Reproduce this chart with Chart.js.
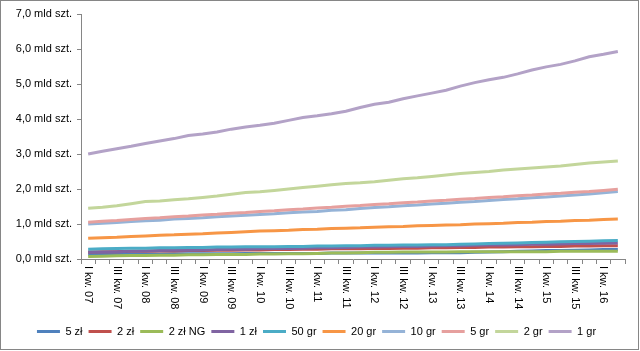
<!DOCTYPE html>
<html>
<head>
<meta charset="utf-8">
<script src="https://cdn.jsdelivr.net/npm/chart.js@4/dist/chart.umd.min.js"></script>
<style>
  html, body { margin: 0; padding: 0; background: #fff; }
  #wrap { width: 640px; height: 351px; position: relative; }
</style>
</head>
<body>
<div id="wrap"><canvas id="c" width="640" height="351"></canvas></div>
<script>
const categories = [
  "I kw. 07","II kw. 07","III kw. 07","IV kw. 07",
  "I kw. 08","II kw. 08","III kw. 08","IV kw. 08",
  "I kw. 09","II kw. 09","III kw. 09","IV kw. 09",
  "I kw. 10","II kw. 10","III kw. 10","IV kw. 10",
  "I kw. 11","II kw. 11","III kw. 11","IV kw. 11",
  "I kw. 12","II kw. 12","III kw. 12","IV kw. 12",
  "I kw. 13","II kw. 13","III kw. 13","IV kw. 13",
  "I kw. 14","II kw. 14","III kw. 14","IV kw. 14",
  "I kw. 15","II kw. 15","III kw. 15","IV kw. 15",
  "I kw. 16","II kw. 16"
];

const seriesNames = ["5 zł","2 zł","2 zł NG","1 zł","50 gr","20 gr","10 gr","5 gr","2 gr","1 gr"];

const zl5 = [0.13,0.13,0.14,0.14,0.14,0.14,0.15,0.15,0.15,0.15,0.15,0.16,0.16,0.16,0.16,0.16,0.16,0.17,0.17,0.17,0.17,0.17,0.17,0.17,0.18,0.18,0.18,0.19,0.20,0.21,0.22,0.23,0.24,0.24,0.25,0.26,0.27,0.27];
const zl2 = [0.20,0.21,0.21,0.22,0.22,0.23,0.23,0.24,0.24,0.25,0.25,0.26,0.26,0.27,0.27,0.28,0.28,0.29,0.29,0.29,0.30,0.30,0.31,0.31,0.32,0.32,0.33,0.33,0.34,0.34,0.35,0.35,0.36,0.36,0.37,0.37,0.38,0.38];
const zl2ng = [0.07,0.08,0.09,0.10,0.10,0.11,0.11,0.12,0.12,0.13,0.13,0.13,0.14,0.14,0.15,0.15,0.16,0.17,0.17,0.18,0.19,0.19,0.20,0.20,0.20,0.20,0.21,0.21,0.21,0.21,0.21,0.21,0.21,0.22,0.22,0.22,0.22,0.22];
const zl1 = [0.19,0.20,0.21,0.22,0.23,0.24,0.25,0.25,0.26,0.27,0.28,0.28,0.29,0.30,0.30,0.31,0.32,0.32,0.33,0.34,0.34,0.35,0.36,0.36,0.37,0.38,0.38,0.39,0.40,0.40,0.41,0.42,0.42,0.43,0.44,0.44,0.45,0.46];
const gr50 = [0.28,0.29,0.30,0.31,0.31,0.32,0.32,0.33,0.33,0.34,0.34,0.35,0.35,0.35,0.36,0.36,0.37,0.37,0.38,0.38,0.39,0.39,0.40,0.40,0.41,0.41,0.42,0.43,0.44,0.45,0.46,0.47,0.48,0.49,0.50,0.51,0.52,0.53];
const gr20 = [0.59,0.61,0.62,0.64,0.66,0.68,0.69,0.71,0.72,0.74,0.76,0.78,0.80,0.81,0.82,0.84,0.85,0.87,0.88,0.89,0.91,0.92,0.93,0.95,0.96,0.97,0.98,1.00,1.01,1.02,1.04,1.05,1.07,1.08,1.10,1.11,1.13,1.14];
const gr10 = [1.00,1.02,1.04,1.07,1.09,1.11,1.14,1.16,1.18,1.21,1.23,1.25,1.27,1.29,1.32,1.34,1.36,1.39,1.41,1.44,1.47,1.49,1.52,1.54,1.57,1.59,1.62,1.64,1.67,1.70,1.72,1.75,1.77,1.80,1.83,1.86,1.89,1.93];
const gr5 = [1.05,1.08,1.10,1.13,1.16,1.18,1.21,1.23,1.26,1.28,1.31,1.33,1.36,1.38,1.41,1.43,1.46,1.48,1.51,1.53,1.56,1.58,1.61,1.63,1.66,1.68,1.71,1.73,1.76,1.78,1.81,1.83,1.86,1.88,1.91,1.93,1.96,1.99];
const gr2 = [1.45,1.48,1.52,1.58,1.64,1.66,1.69,1.72,1.76,1.80,1.85,1.90,1.92,1.96,2.00,2.04,2.08,2.12,2.16,2.18,2.21,2.25,2.29,2.32,2.36,2.40,2.44,2.47,2.50,2.54,2.57,2.60,2.63,2.66,2.70,2.74,2.77,2.80];
const gr1 = [3.00,3.08,3.15,3.22,3.30,3.37,3.44,3.53,3.57,3.63,3.71,3.77,3.82,3.88,3.96,4.04,4.09,4.15,4.22,4.33,4.42,4.48,4.58,4.66,4.74,4.82,4.94,5.04,5.12,5.19,5.29,5.40,5.49,5.56,5.66,5.78,5.85,5.93];

const seriesValues = [zl5, zl2, zl2ng, zl1, gr50, gr20, gr10, gr5, gr2, gr1];
const seriesColors = ["#4F81BD","#C0504D","#9BBB59","#8064A2","#4BACC6","#F79646","#95B3D7","#E6A09E","#C3D69B","#B3A2C7"];

const yMin = 0, yMax = 7, yStep = 1;

const FONT = "Liberation Sans";
const AXIS = "#868686";

const datasets = seriesNames.map((name, i) => ({
  label: name,
  data: seriesValues[i],
  borderColor: seriesColors[i],
  backgroundColor: seriesColors[i],
  borderWidth: 3,
  pointRadius: 0,
  tension: 0,
  order: -i
}));

const rotatedLabels = {
  id: 'rotatedLabels',
  afterDraw(chart) {
    const ctx = chart.ctx;
    const sx = chart.scales.x;
    ctx.save();
    ctx.fillStyle = '#000';
    ctx.font = '11px "' + FONT + '"';
    ctx.textAlign = 'left';
    ctx.textBaseline = 'middle';
    sx.ticks.forEach((t, i) => {
      const lbl = t.label;
      if (!lbl) return;
      const x = sx.getPixelForTick(i);
      ctx.save();
      ctx.translate(x, sx.top + 7);
      ctx.rotate(Math.PI / 2);
      ctx.fillText(lbl, 0, 0);
      ctx.restore();
    });
    ctx.restore();
  }
};

const frame = {
  id: 'frame',
  afterDraw(chart) {
    const ctx = chart.ctx;
    ctx.save();
    ctx.strokeStyle = AXIS;
    ctx.lineWidth = 1;
    ctx.strokeRect(0.5, 0.5, 638, 349);
    ctx.restore();
  }
};

new Chart(document.getElementById('c'), {
  type: 'line',
  data: { labels: categories, datasets },
  plugins: [rotatedLabels, frame],
  options: {
    responsive: false,
    animation: false,
    events: [],
    layout: { padding: { left: 8, right: 15, top: 14, bottom: 4 } },
    plugins: {
      tooltip: { enabled: false },
      legend: {
        position: 'bottom',
        labels: {
          font: { family: FONT, size: 11 },
          color: '#000',
          boxWidth: 23,
          boxHeight: 3,
          padding: 6,
          sort: (a, b) => a.datasetIndex - b.datasetIndex,
          generateLabels(chart) {
            const items = Chart.defaults.plugins.legend.labels.generateLabels(chart);
            items.forEach(it => { it.lineWidth = 0; it.fillStyle = it.strokeStyle; });
            return items;
          }
        }
      }
    },
    scales: {
      x: {
        type: 'category',
        offset: true,
        border: { display: true, color: AXIS, width: 1 },
        grid: { display: true, offset: true, drawOnChartArea: false, drawTicks: true, tickLength: 5, color: AXIS },
        ticks: {
          autoSkip: false,
          maxRotation: 90,
          minRotation: 90,
          color: 'rgba(0,0,0,0)',
          font: { family: FONT, size: 11 },
          callback: (v, i) => (i % 2 === 0 ? categories[i] : '')
        },
        afterFit(scale) { scale.height = 61; }
      },
      y: {
        min: yMin,
        max: yMax,
        border: { display: true, color: AXIS, width: 1 },
        grid: { display: true, drawOnChartArea: false, drawTicks: true, tickLength: 4, color: AXIS },
        ticks: {
          stepSize: yStep,
          color: '#000',
          padding: 5,
          font: { family: FONT, size: 11 },
          callback: v => v.toFixed(1).replace('.', ',') + ' mld szt.'
        },
        afterFit(scale) { scale.width = 73; }
      }
    }
  }
});
</script>
</body>
</html>
